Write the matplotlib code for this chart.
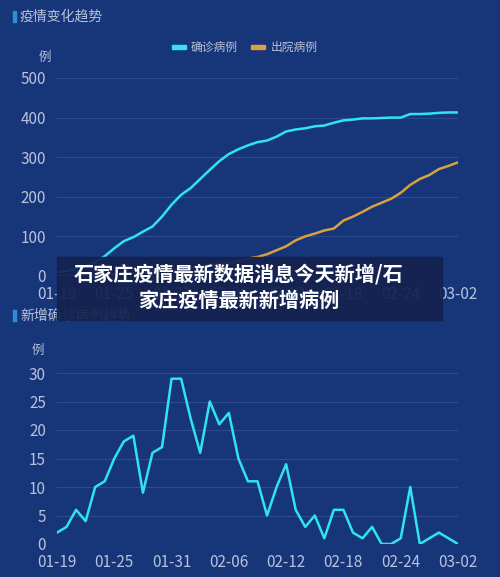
import matplotlib
matplotlib.use("Agg")
import matplotlib.pyplot as plt
import numpy as np
from matplotlib.patches import Rectangle

plt.rcParams['font.family'] = ['Noto Sans CJK SC', 'DejaVu Sans']

dates = (["01-%02d" % d for d in range(19, 32)] + ["02-%02d" % d for d in range(1, 29)]
         + ["03-01", "03-02"])
confirmed = [10, 13, 18, 24, 35, 50, 70, 88, 98, 112, 125, 150, 180, 205, 222, 245, 268, 290,
             308, 320, 330, 338, 342, 352, 365, 370, 373, 378, 380, 387, 393, 395, 398, 398,
             399, 400, 400, 409, 409, 410, 412, 413, 413]
discharged = [0, 0, 0, 0, 1, 2, 3, 5, 7, 9, 11, 13, 15, 18, 22, 25, 28, 30, 32, 38, 44, 48,
              55, 65, 75, 90, 100, 107, 115, 120, 140, 150, 162, 175, 185, 195, 210, 230, 245,
              255, 270, 278, 287]
new_cases = [2, 3, 6, 4, 10, 11, 15, 18, 19, 9, 16, 17, 29, 29, 22, 16, 25, 21, 23, 15, 11,
             11, 5, 10, 14, 6, 3, 5, 1, 6, 6, 2, 1, 3, 0, 0, 1, 10, 0, 1, 2, 1, 0]
tick_labels = dates[::6]

BG = '#173579'
CYAN = '#2fe4ee'
ORANGE = '#d9a23e'
TXT = '#b9c2dc'
GRID = '#2c4a8e'

W, H = 500, 577
fig = plt.figure(figsize=(W / 100, H / 100), dpi=100, facecolor=BG)

def px_axes(l, t, r, b):
    return fig.add_axes([l / W, 1 - b / H, (r - l) / W, (b - t) / H])

def style(ax, ymax, step):
    ax.set_facecolor(BG)
    x = np.arange(len(dates))
    ax.set_xlim(0, len(dates) - 1)
    ax.set_ylim(0, ymax)
    ax.set_yticks(np.arange(0, ymax + 1, step))
    ax.set_xticks(x[::6])
    ax.set_xticklabels(tick_labels)
    for s in ax.spines.values():
        s.set_visible(False)
    ax.grid(axis='y', color=GRID, lw=0.8)
    ax.set_axisbelow(True)
    ax.tick_params(length=0, colors=TXT, labelsize=11)
    ax.tick_params(axis='x', pad=7)
    ax.tick_params(axis='y', pad=8)
    return x

# Top chart
ax1 = px_axes(57, 78, 458, 276)
x = style(ax1, 500, 100)
ax1.plot(x, confirmed, color=CYAN, lw=1.8, solid_capstyle='round')
ax1.plot(x, discharged, color=ORANGE, lw=1.8, solid_capstyle='round')
fig.text(45 / W, 1 - 57 / H, '例', color=TXT, fontsize=9, ha='center', va='center')

# Legend (manual)
fig.add_artist(Rectangle((172 / W, 1 - 49 / H), 14 / W, 4 / H, color=CYAN, transform=fig.transFigure))
fig.text(191 / W, 1 - 47 / H, '确诊病例', color=TXT, fontsize=8.5, va='center')
fig.add_artist(Rectangle((251 / W, 1 - 49 / H), 14 / W, 4 / H, color=ORANGE, transform=fig.transFigure))
fig.text(271 / W, 1 - 47 / H, '出院病例', color=TXT, fontsize=8.5, va='center')

# Titles
fig.add_artist(Rectangle((13 / W, 1 - 22 / H), 3 / W, 11 / H, color='#2b8fd8', transform=fig.transFigure))
fig.text(20 / W, 1 - 17 / H, '疫情变化趋势', color=TXT, fontsize=10, va='center')
fig.add_artist(Rectangle((13 / W, 1 - 321 / H), 3 / W, 11 / H, color='#2b8fd8', transform=fig.transFigure))
fig.text(20 / W, 1 - 316 / H, '新增确诊病例趋势', color=TXT, fontsize=10, va='center')

# Bottom chart
ax2 = px_axes(57, 373, 458, 544)
x = style(ax2, 30, 5)
ax2.plot(x, new_cases, color=CYAN, lw=1.8, solid_capstyle='round')
fig.text(38 / W, 1 - 350 / H, '例', color=TXT, fontsize=9, ha='center', va='center')

# Banner overlay
fig.add_artist(Rectangle((57 / W, 1 - 320 / H), 385 / W, 63 / H, color='#14224f', alpha=0.93,
                         transform=fig.transFigure, zorder=10))
fig.text(239 / W, 1 - 274 / H, '石家庄疫情最新数据消息今天新增/石', color='white', fontsize=14.5,
         fontweight='bold', ha='center', va='center', zorder=11)
fig.text(239 / W, 1 - 300 / H, '家庄疫情最新新增病例', color='white', fontsize=14.5,
         fontweight='bold', ha='center', va='center', zorder=11)

fig.savefig('out.png', dpi=100, facecolor=BG)
